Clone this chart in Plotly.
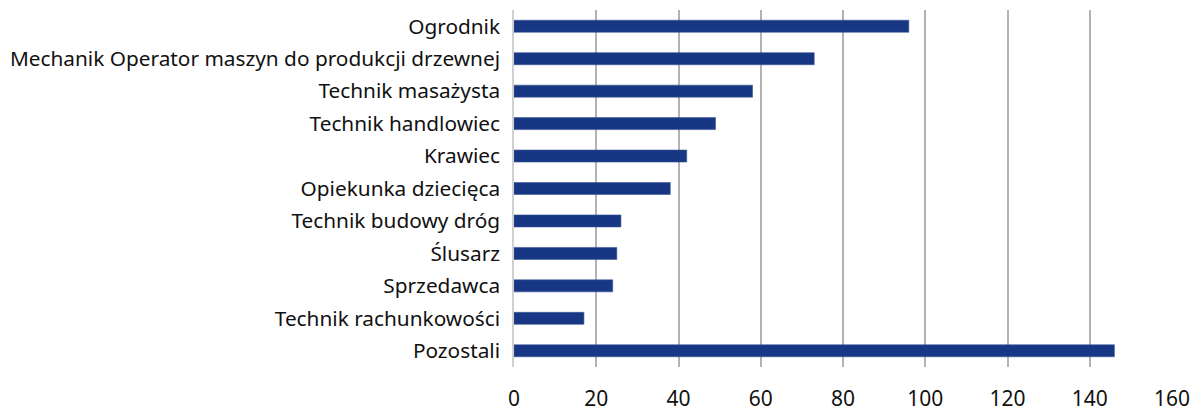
import plotly.graph_objects as go

categories = [
    "Ogrodnik",
    "Mechanik Operator maszyn do produkcji drzewnej",
    "Technik masażysta",
    "Technik handlowiec",
    "Krawiec",
    "Opiekunka dziecięca",
    "Technik budowy dróg",
    "Ślusarz",
    "Sprzedawca",
    "Technik rachunkowości",
    "Pozostali",
]
values = [96, 73, 58, 49, 42, 38, 26, 25, 24, 17, 146]
x_ticks = [0, 20, 40, 60, 80, 100, 120, 140, 160]

fig = go.Figure(
    go.Bar(
        x=values,
        y=categories,
        orientation="h",
        width=0.37,
        marker=dict(color="#173784", line=dict(color="#3b5596", width=0.6)),
    )
)

fig.update_layout(
    width=1192,
    height=411,
    margin=dict(l=514, r=20, t=10, b=44),
    paper_bgcolor="white",
    plot_bgcolor="white",
    showlegend=False,
    font=dict(family="Noto Sans", color="#111111"),
)
fig.update_xaxes(
    range=[0, 160],
    tickvals=x_ticks,
    showgrid=True,
    gridcolor="#b3b3b3",
    gridwidth=1.5,
    zeroline=False,
    showline=False,
    automargin=False,
    tickfont=dict(size=21, family="Noto Sans"),
    ticklabelstandoff=17,
)
fig.update_yaxes(
    autorange="reversed",
    showgrid=False,
    showline=True,
    linecolor="#d0d0d0",
    linewidth=1.5,
    automargin=False,
    tickfont=dict(size=20.8, family="Noto Sans"),
    ticklabelstandoff=8,
)

fig.write_html(
    "out.html",
    config={"displayModeBar": False},
    post_script="document.body.style.margin='0';document.body.style.overflow='hidden';",
)
